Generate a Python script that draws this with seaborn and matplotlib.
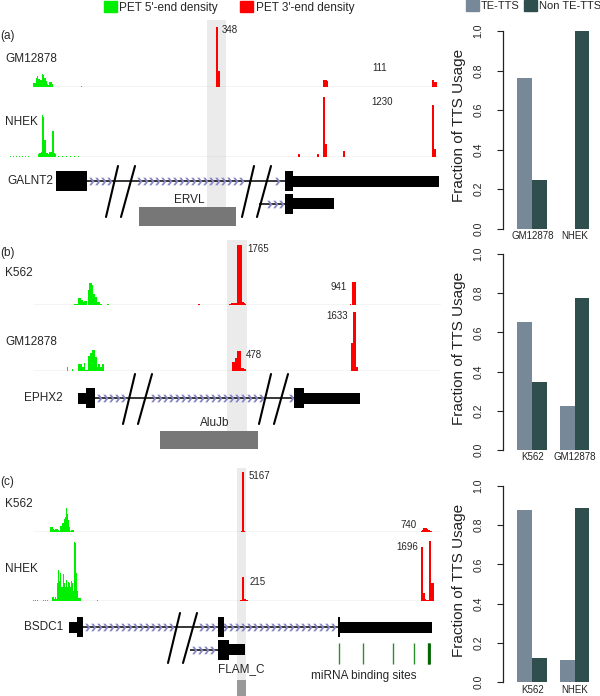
import numpy as np
import pandas as pd
import matplotlib
matplotlib.use('Agg')
import matplotlib.pyplot as plt
from matplotlib.patches import Patch
from matplotlib.path import Path
import seaborn as sns

# ---------------- data ----------------
# PET density tracks: bin position in the browser window, read count
a_gm_green_x = [33, 34, 35, 36, 37, 38, 39, 40, 41, 42, 43, 44, 45, 46, 47, 48, 49, 50, 51, 52, 81]
a_gm_green_y = [23, 23, 23, 52, 64, 46, 46, 41, 41, 75, 70, 52, 52, 35, 17, 12, 29, 29, 29, 17, 3]
a_gm_red_x = [216, 217, 218, 219, 323, 324, 325, 326, 327, 432, 433, 434, 435, 436]
a_gm_red_y = [348, 348, 93, 93, 40, 43, 43, 43, 35, 43, 43, 30, 30, 30]

a_nhek_green_x = [10, 13, 16, 19, 22, 25, 28, 38, 39, 40, 41, 42, 43, 44, 45, 46, 47,
                  48, 49, 50, 51, 52, 53, 54, 55, 58, 62, 66, 70, 74, 78]
a_nhek_green_y = [15, 15, 15, 15, 15, 15, 15, 62, 82, 82, 103, 861, 820, 349, 349, 82, 82,
                  62, 103, 103, 103, 533, 533, 82, 62, 15, 15, 15, 15, 15, 15]
a_nhek_red_x = [298, 299, 317, 318, 323, 324, 325, 326, 343, 344, 432, 433, 434, 435]
a_nhek_red_y = [61, 61, 70, 70, 1230, 1230, 266, 266, 125, 125, 1066, 1066, 164, 164]

b_k562_green_x = [74, 75, 76, 77, 78, 79, 80, 81, 82, 83, 84, 85, 86, 87, 88, 89, 90, 91,
                  92, 93, 94, 95, 96, 97, 98, 99, 100, 101, 107, 108]
b_k562_green_y = [29, 29, 29, 29, 206, 206, 206, 147, 147, 88, 118, 118, 118, 0, 441, 647, 647, 647,
                  588, 323, 323, 235, 235, 88, 88, 88, 29, 29, 29, 29]
b_k562_red_x = [198, 199, 229, 230, 231, 232, 233, 234, 235, 236, 237, 238, 239, 240, 241,
                242, 243, 244, 245, 350, 352, 353, 354, 355]
b_k562_red_y = [29, 29, 29, 29, 59, 59, 59, 59, 59, 59, 1765, 1765, 1765, 1765, 1765,
                88, 88, 59, 29, 29, 676, 676, 676, 676]

b_gm_green_x = [67, 72, 78, 79, 80, 81, 82, 83, 84, 85, 86, 87, 88, 89, 90, 91, 92, 93, 94,
                95, 96, 97, 98, 99, 100, 101, 102, 103]
b_gm_green_y = [111, 55, 194, 194, 194, 194, 111, 111, 222, 28, 28, 28, 416, 416, 499, 499, 582, 582, 582,
                388, 388, 111, 194, 194, 111, 111, 194, 194]
b_gm_red_x = [232, 233, 234, 235, 236, 237, 238, 239, 240, 241, 242, 243, 244, 245,
              351, 352, 353, 354, 355, 356, 357]
b_gm_red_y = [249, 249, 249, 360, 360, 554, 554, 554, 554, 83, 83, 83, 55, 55,
              776, 776, 1633, 1633, 1633, 111, 111]

c_k562_green_x = [50, 51, 52, 53, 54, 55, 56, 57, 58, 59, 60, 61, 62, 63, 64, 65, 66, 67, 68,
                  69, 70, 71, 72, 73]
c_k562_green_y = [431, 431, 431, 258, 172, 258, 258, 258, 172, 86, 517, 517, 775, 775, 1119, 1292, 2066,
                  1550, 1033, 431, 86, 172, 172, 172]
c_k562_red_x = [241, 242, 243, 244, 421, 422, 423, 424, 425, 426, 427, 428, 429, 430, 431]
c_k562_red_y = [86, 5167, 5167, 86, 86, 172, 344, 344, 344, 344, 258, 172, 172, 86, 86]

c_nhek_green_x = [33, 35, 37, 43, 45, 47, 52, 53, 54, 55, 56, 57, 58, 59, 60, 61, 62, 63, 64, 65,
                  66, 67, 68, 69, 70, 71, 72, 73, 74, 75, 76, 77, 78, 79, 80, 97]
c_nhek_green_y = [28, 28, 28, 28, 28, 28, 113, 113, 57, 113, 57, 509, 877, 566, 792, 396, 396, 764, 509, 396,
                  594, 396, 538, 509, 396, 566, 509, 283, 1670, 1641, 792, 283, 85, 85, 85, 28]
c_nhek_red_x = [240, 241, 242, 243, 244, 245, 246, 247, 421, 422, 423, 424, 425, 426, 427, 428,
                429, 430, 431, 432, 433]
c_nhek_red_y = [28, 28, 679, 679, 57, 57, 28, 28, 1528, 1528, 226, 226, 57, 28, 28, 28,
                1696, 1696, 509, 509, 509]

# peak annotations: text, position, count level, alignment
a_gm_labels = [('348', 222, 331, 'left'), ('111', 372, 110, 'left')]
a_nhek_labels = [('1230', 371, 1128, 'left')]
b_k562_labels = [('1765', 247, 1647, 'left'), ('941', 347, 529, 'right')]
b_gm_labels = [('1633', 348, 1523, 'right'), ('478', 246, 443, 'left')]
c_k562_labels = [('5167', 249, 4822, 'left'), ('740', 417, 603, 'right')]
c_nhek_labels = [('1696', 418, 1528, 'right'), ('215', 250, 538, 'left')]

# gene models: exons (start, end, transcript row, kind), introns (start, end, row)
a_exons = [(56, 87, 0, 'cds'), (285, 293, 0, 'cds'), (293, 439, 0, 'utr'),
           (285, 293, 1, 'cds'), (293, 334, 1, 'utr')]
a_introns = [(87, 285, 0), (259, 285, 1)]
a_breaks = [120, 256]

b_exons = [(78, 86, 0, 'utr'), (86, 95, 0, 'cds'), (294, 304, 0, 'cds'), (304, 360, 0, 'utr')]
b_introns = [(95, 294, 0)]
b_breaks = [137, 273]

c_exons = [(69, 77, 0, 'utr'), (77, 83, 0, 'cds'), (218, 224, 0, 'cds'), (338, 340, 0, 'cds'),
           (340, 432, 0, 'utr'), (218, 229, 1, 'cds'), (229, 245, 1, 'utr')]
c_introns = [(83, 338, 0), (190, 218, 1)]
c_breaks = [182]
c_mirna = [339, 363, 393, 414, 428, 429]

# transposable elements
a_te = ('ERVL', 139, 236)
b_te = ('AluJb', 160, 258)
c_te = ('FLAM_C', 237, 246)

# TTS usage fractions
a_cells = ['GM12878', 'NHEK']
a_te_frac = [0.76, 0.0]
a_non_frac = [0.245, 1.0]
b_cells = ['K562', 'GM12878']
b_te_frac = [0.651, 0.226]
b_non_frac = [0.348, 0.774]
c_cells = ['K562', 'NHEK']
c_te_frac = [0.876, 0.111]
c_non_frac = [0.125, 0.89]

# ---------------- style ----------------
sns.set_style('white')
plt.rcParams['font.family'] = ['Liberation Sans', 'DejaVu Sans']

W, H = 600, 696
GREEN = '#00ee00'
RED = '#ff0000'
TE_COL = '#778899'
NON_COL = '#2f4f4f'
SHADE = '#ebebeb'
ARROW = '#8686c6'
BOX = '#777777'
ROW = 22.5
EXON_H = {'cds': 10, 'utr': 5.5}
FS = 8.5

chevron = Path([(-0.6, 1.0), (0.15, 0.0), (-0.6, -1.0), (0.0, -1.0), (0.75, 0.0), (0.0, 1.0), (-0.6, 1.0)],
               [Path.MOVETO] + [Path.LINETO] * 5 + [Path.CLOSEPOLY])

fig = plt.figure(figsize=(W / 100, H / 100), dpi=100)


def px_axes(x0, y0, x1, y1):
    ax = fig.add_axes([x0 / W, 1 - y1 / H, (x1 - x0) / W, (y1 - y0) / H])
    ax.set_facecolor('none')
    return ax


def draw_track(t):
    ax = px_axes(0, t['base'] - 62, 441, t['base'])
    ax.set_xlim(0, 441)
    ax.set_ylim(0, t['ymax'])
    ax.axis('off')
    ax.hlines(0, 33, 441, color='#a8a8a8', lw=0.9, zorder=1)
    ax.bar(t['green'][0], t['green'][1], width=1, color=GREEN, linewidth=0, zorder=2)
    ax.bar(t['red'][0], t['red'][1], width=1, color=RED, linewidth=0, zorder=2)
    for txt, x, y, ha in t['labels']:
        ax.text(x, y, txt, ha=ha, va='center', fontsize=7)
    fig.text(5 / W, 1 - t['name_y'] / H, t['name'], ha='left', va='center', fontsize=FS)


def draw_gene(p):
    line = p['line']
    ax = px_axes(0, line - 30, 441, line + 75)
    ax.set_xlim(0, 441)
    ax.set_ylim(75, -30)
    ax.axis('off')
    yb, yt = p['slash']
    for s, e, row in p['introns']:
        y = row * ROW
        ax.plot([s, e], [y, y], color='black', lw=1.1, solid_capstyle='butt', zorder=2)
        xs = np.arange(s + 4, e - 2, 6.0)
        keep = np.ones(len(xs), bool)
        f = (yb - y) / (yb - yt)
        for c in p['breaks']:
            x1 = c - 14 + 12 * f
            x2 = c + 1 + 14 * f
            keep &= ~((xs > x1 - 4) & (xs < x2 + 5))
        ax.plot(xs[keep], np.full(keep.sum(), y), ls='none', marker=chevron, ms=5.5,
                color=ARROW, mec='none', zorder=3)
    for s, e, row, kind in p['exons']:
        h = EXON_H[kind]
        ax.bar(s, 2 * h, width=e - s, bottom=row * ROW - h, align='edge', color='black',
               linewidth=0, zorder=4)
    for c in p['breaks']:
        ax.plot([c - 14, c - 2], [yb, yt], color='black', lw=1.5, zorder=5)
        ax.plot([c + 1, c + 15], [yb, yt], color='black', lw=1.5, zorder=5)
    name, s, e = p['te']
    t0, t1, ly = p['te_y']
    ax.bar(s, t1 - t0, width=e - s, bottom=t0, align='edge', color=p['te_col'], linewidth=0, zorder=4)
    ax.text((s + e) / 2 + p['te_dx'], ly, name, ha='center', va='center', fontsize=FS)
    ax.text(p['name_x'], 0, p['gene'], ha='right', va='center', fontsize=FS)
    if 'mirna' in p:
        ax.vlines(p['mirna'], 16, 37, color='#2e8b2e', lw=1.0)
        ax.vlines(p['mirna'][-1], 16, 37, color='#006400', lw=2.0)
        ax.text(364, 49, 'miRNA binding sites', ha='center', va='center', fontsize=FS)


panels = [
    dict(tag='(a)', tag_y=36, shade_x=(207, 226), shade_y=(20, 207),
         tracks=[dict(name='GM12878', name_y=59, base=87, ymax=360,
                      green=(a_gm_green_x, a_gm_green_y), red=(a_gm_red_x, a_gm_red_y), labels=a_gm_labels),
                 dict(name='NHEK', name_y=122, base=157, ymax=1271,
                      green=(a_nhek_green_x, a_nhek_green_y), red=(a_nhek_red_x, a_nhek_red_y), labels=a_nhek_labels)],
         gene='GALNT2', name_x=53, line=181, exons=a_exons, introns=a_introns, breaks=a_breaks,
         slash=(36, -15), te=a_te, te_y=(26, 45, 19), te_dx=2, te_col=BOX),
    dict(tag='(b)', tag_y=253, shade_x=(227, 247), shade_y=(240, 431),
         tracks=[dict(name='K562', name_y=273, base=305, ymax=1824,
                      green=(b_k562_green_x, b_k562_green_y), red=(b_k562_red_x, b_k562_red_y), labels=b_k562_labels),
                 dict(name='GM12878', name_y=342, base=371, ymax=1717,
                      green=(b_gm_green_x, b_gm_green_y), red=(b_gm_red_x, b_gm_red_y), labels=b_gm_labels)],
         gene='EPHX2', name_x=63, line=398, exons=b_exons, introns=b_introns, breaks=b_breaks,
         slash=(26, -24), te=b_te, te_y=(33, 51, 25), te_dx=6, te_col=BOX),
    dict(tag='(c)', tag_y=482, shade_x=(237, 246), shade_y=(468, 680),
         tracks=[dict(name='K562', name_y=504, base=532, ymax=5339,
                      green=(c_k562_green_x, c_k562_green_y), red=(c_k562_red_x, c_k562_red_y), labels=c_k562_labels),
                 dict(name='NHEK', name_y=569, base=601, ymax=1755,
                      green=(c_nhek_green_x, c_nhek_green_y), red=(c_nhek_red_x, c_nhek_red_y), labels=c_nhek_labels)],
         gene='BSDC1', name_x=63, line=627, exons=c_exons, introns=c_introns, breaks=c_breaks,
         slash=(36, -14), te=c_te, te_y=(53, 75, 42), te_dx=0, te_col='#999999', mirna=c_mirna),
]

for p in panels:
    bg = px_axes(0, p['shade_y'][0], 441, p['shade_y'][1])
    bg.set_xlim(0, 441)
    bg.axvspan(*p['shade_x'], color=SHADE, lw=0)
    bg.axis('off')
    fig.text(0, 1 - p['tag_y'] / H, p['tag'], ha='left', va='center', fontsize=FS)
    for t in p['tracks']:
        draw_track(t)
    draw_gene(p)

# ---------------- TTS usage bar charts ----------------
charts = [(a_cells, a_te_frac, a_non_frac, 31, 228.5, 1.5),
          (b_cells, b_te_frac, b_non_frac, 254, 450, 1.5),
          (c_cells, c_te_frac, c_non_frac, 486, 682, 2.5)]
for cells, te, non, top, zero, xpad in charts:
    span = zero - top
    ax = px_axes(503, top - 0.04 * span, 600, zero)
    df = pd.DataFrame({'cell': cells * 2,
                       'type': ['TE-TTS'] * 2 + ['Non TE-TTS'] * 2,
                       'frac': te + non})
    sns.barplot(data=df, x='cell', y='frac', hue='type', order=cells,
                hue_order=['TE-TTS', 'Non TE-TTS'], palette=[TE_COL, NON_COL],
                width=0.714, saturation=1, linewidth=0, legend=False, ax=ax)
    ax.set_xlim(-0.702, 1.607)
    ax.set_ylim(0, 1.04)
    for s in ['top', 'right', 'bottom']:
        ax.spines[s].set_visible(False)
    ax.spines['left'].set_bounds(0, 1)
    ax.spines['left'].set_color('#222222')
    ax.spines['left'].set_linewidth(0.9)
    ax.set_yticks([0, 0.2, 0.4, 0.6, 0.8, 1.0])
    ax.set_yticklabels(['0.0', '0.2', '0.4', '0.6', '0.8', '1.0'], rotation=90, va='center')
    ax.tick_params(axis='y', left=True, length=4.3, width=0.8, pad=10, labelsize=7.5,
                   color='#222222', labelcolor='#222222')
    ax.tick_params(axis='x', bottom=False, length=0, pad=xpad, labelsize=7, labelcolor='#222222')
    ax.set_xlabel('')
    ax.set_ylabel('Fraction of TTS Usage', fontsize=11, color='#222222')
    ax.yaxis.set_label_coords(-(503 - 458.5) / 97, 0.5)
    ax.yaxis.label.set_va('center')

# legends
fig.legend([Patch(color=GREEN), Patch(color=RED)], ["PET 5'-end density", "PET 3'-end density"],
           loc='upper left', bbox_to_anchor=(104 / W, 1 - 1 / H), ncol=2, frameon=False,
           fontsize=FS, handlelength=1.1, handleheight=1.1, handletextpad=0.2,
           columnspacing=1.9, borderpad=0, borderaxespad=0)
fig.legend([Patch(color=TE_COL), Patch(color=NON_COL)], ['TE-TTS', 'Non TE-TTS'],
           loc='upper left', bbox_to_anchor=(466 / W, 1), ncol=2, frameon=False,
           fontsize=8, handlelength=1.2, handleheight=1.2, handletextpad=0.15,
           columnspacing=0.35, borderpad=0, borderaxespad=0)

fig.savefig('out.png', dpi=100)
